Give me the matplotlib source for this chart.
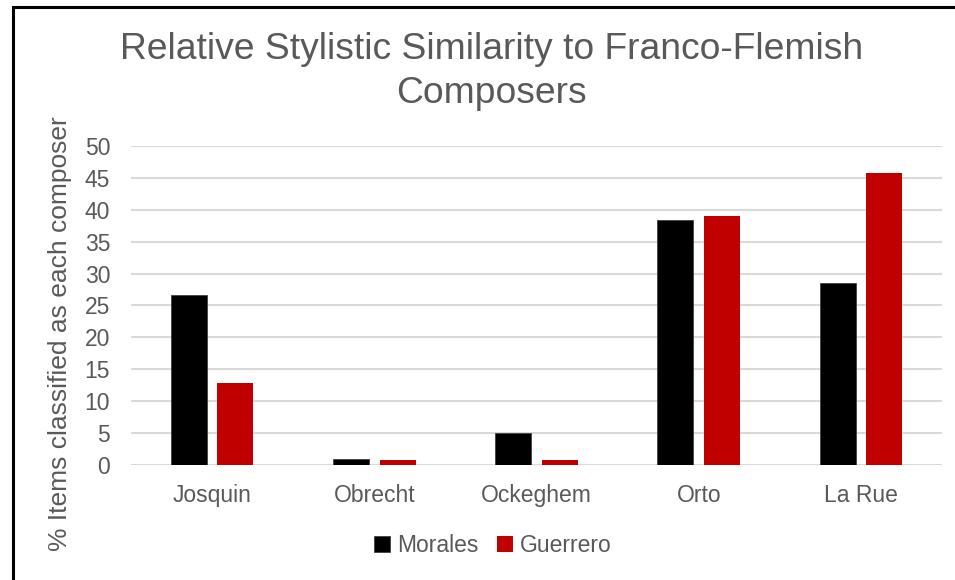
import numpy as np
import matplotlib.pyplot as plt
from matplotlib.patches import Rectangle

plt.rcParams['font.family'] = ['Liberation Sans', 'DejaVu Sans']

# data
composers = ["Josquin", "Obrecht", "Ockeghem", "Orto", "La Rue"]
morales = [26.6, 0.9, 5.0, 38.4, 28.6]
guerrero = [12.8, 0.8, 0.8, 39.1, 45.8]

text_col = '#595959'
grid_col = '#D9D9D9'

fig = plt.figure(figsize=(9.55, 5.8), dpi=100)
ax = fig.add_axes([0.1372, 0.1983, 0.8492, 0.55])

x = np.arange(len(composers))
w = 0.222
off = 0.144
ax.bar(x - off, morales, w, color='black', edgecolor='#404040', linewidth=0.6, label='Morales', zorder=3)
ax.bar(x + off, guerrero, w, color='#C00000', label='Guerrero', zorder=3)

ax.set_xlim(-0.5, len(composers) - 0.5)
ax.set_ylim(0, 50)
ax.set_yticks(np.arange(0, 51, 5))
ax.set_xticks(x)
ax.set_xticklabels(composers)
ax.yaxis.grid(True, color=grid_col, linewidth=1.5, zorder=0)
ax.set_axisbelow(True)
for s in ax.spines.values():
    s.set_visible(False)
ax.tick_params(axis='both', length=0, labelsize=16.5, labelcolor=text_col)
ax.tick_params(axis='y', pad=15)
ax.tick_params(axis='x', pad=14)

# y label sits a bit lower than the plot centre in the original
fig.text(60 / 955, 1 - 334 / 580, "% Items classified as each composer", rotation=90,
         ha='center', va='center', fontsize=19, color=text_col)

# title in two lines
fig.text(0.515, 0.877, "Relative Stylistic Similarity to Franco-Flemish\nComposers",
         ha='center', va='center', fontsize=26.8, color=text_col, linespacing=1.32)

fig.legend(loc='center', bbox_to_anchor=(0.516, 0.059), ncol=2, frameon=False,
           fontsize=16.5, labelcolor=text_col, handlelength=0.7, handleheight=0.7,
           handletextpad=0.3, columnspacing=0.8)

# outer border of the chart area
fig.patches.append(Rectangle((12.5 / 955, -0.1), 1.2, 0.1 + 1 - 6.5 / 580,
                             transform=fig.transFigure, fill=False,
                             edgecolor='black', linewidth=2.2))

fig.savefig('out.png', dpi=100)
